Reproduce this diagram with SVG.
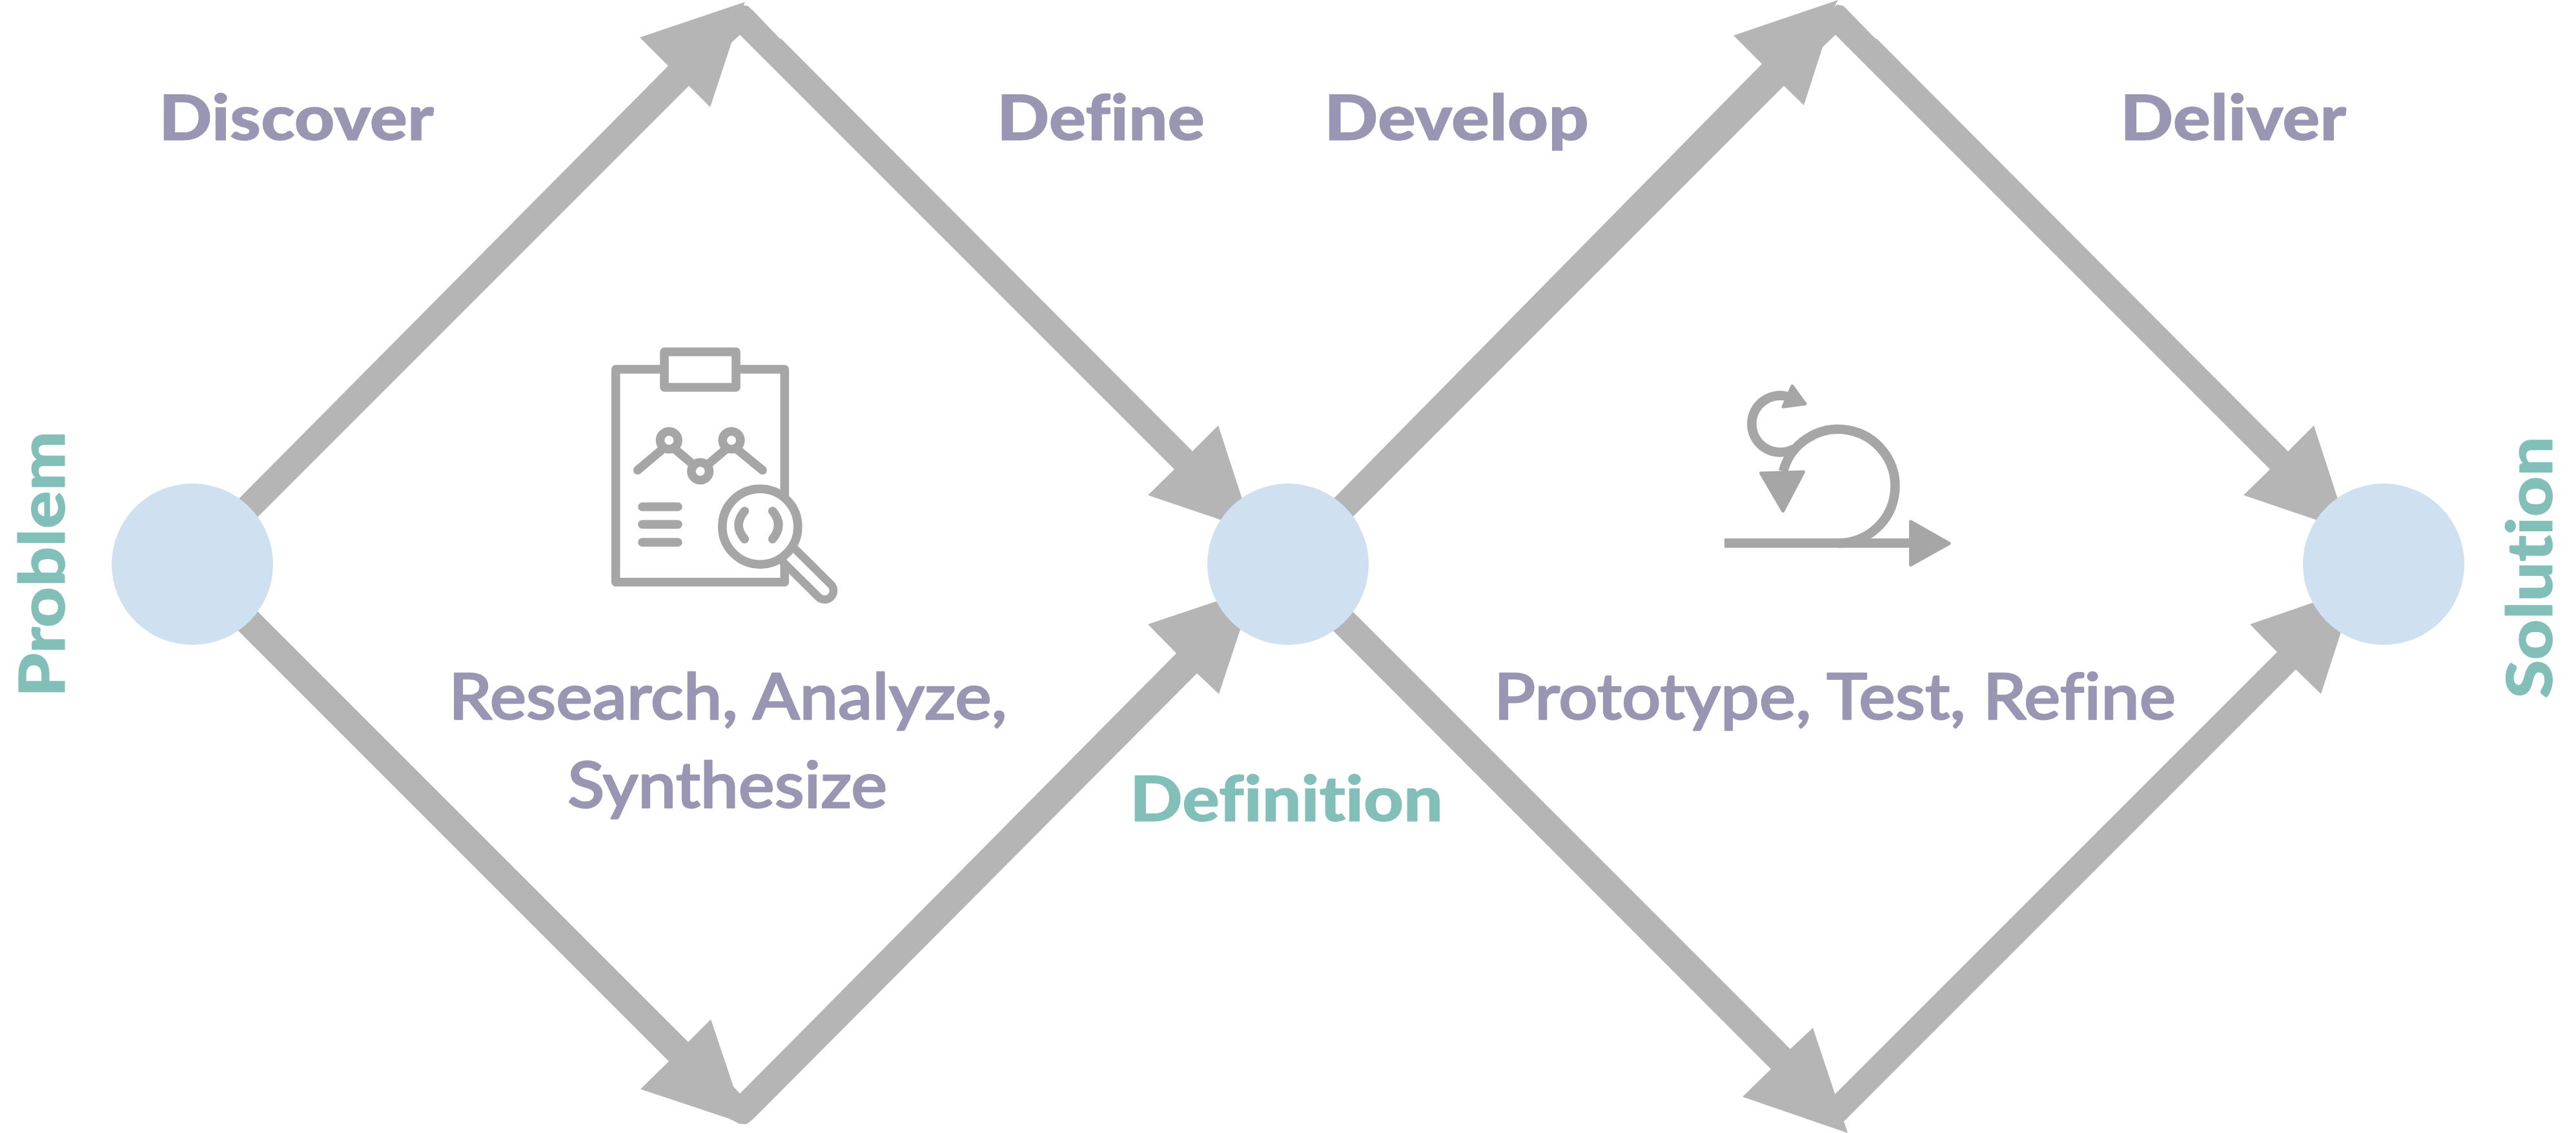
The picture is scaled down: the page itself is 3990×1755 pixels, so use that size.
<svg xmlns="http://www.w3.org/2000/svg" width="3990" height="1755" viewBox="0 0 3990 1755">
<style>
.arrow{fill:#b5b5b5}
.node{fill:#cfe0f0}
text{font-family:"Lato","Liberation Sans",sans-serif;font-size:98px;font-variant-ligatures:none;stroke-linejoin:round}
.head{font-weight:900;fill:#9896b3;stroke:#9896b3;stroke-width:1px}
.key{font-weight:900;fill:#82bfb9;stroke:#82bfb9;stroke-width:1px}
.body{font-weight:500;fill:#9896b3;stroke:#9896b3;stroke-width:2.5px}
.ic{fill:none;stroke:#a6a6a6;stroke-width:13.6;stroke-linecap:round;stroke-linejoin:round}
.icw{fill:#fff;stroke:#a6a6a6;stroke-width:13.6;stroke-linejoin:round}
.ar{fill:#a6a6a6;stroke:#a6a6a6;stroke-width:5;stroke-linejoin:round}
.lp{fill:none;stroke:#a6a6a6;stroke-width:14.6}
</style>
<rect width="3990" height="1755" fill="#fff"/>
<g id="connectors">
<polygon id="a2" class="arrow" points="1133,66 1146,54 1819,727 1778,767 1940,822 1887,659 1847,699 1210,60 1208,60 1167,17 1158,9 1148,8 1125,45"/>
<polygon id="a1" class="arrow" points="300,843 1035,102 991,58 1154,3 1151,10 1133,66 1100,166 1067,133 330,870"/>
<polygon id="a4" class="arrow" points="1136,1683 1146,1694 1822,1012 1778,967 1942,912 1888,1075 1854,1043 1167,1733 1157,1741 1146,1741 1130,1733"/>
<polygon id="a3" class="arrow" points="330,878 1066,1614 1101,1579 1136,1683 1154,1742 1130,1733 992,1687 1036,1644 880,1488 300,908"/>
<polygon id="a6" class="arrow" points="2823,73 2843,54 3516,727 3475,767 3637,822 3584,659 3544,699 2907,60 2905,60 2863,17 2855,9 2845,7 2815,45"/>
<polygon id="a5" class="arrow" points="1995,844 2729,99 2685,55 2847,0 2843,7 2823,73 2794,163 2763,133 2030,866"/>
<polygon id="a8" class="arrow" points="2842,1695 2843,1694 3527,1010 3485,967 3648,911 3595,1075 3556,1037 2856,1737 2850,1740"/>
<polygon id="a7" class="arrow" points="2030,882 2773,1625 2808,1592 2842,1694 2856,1737 2862,1755 2699,1699 2743,1656 2000,912"/>
</g>
<g id="node-problem"><circle class="node" cx="298" cy="874" r="125"/><text class="key" transform="translate(100 1080) rotate(-90)" textLength="412" lengthAdjust="spacingAndGlyphs">Problem</text></g>
<g id="node-definition"><circle class="node" cx="1995" cy="874" r="125"/><text class="key" x="1750" y="1272" textLength="485" lengthAdjust="spacingAndGlyphs">Definition</text></g>
<g id="node-solution"><circle class="node" cx="3692" cy="874" r="125"/><text class="key" transform="translate(3953 1082) rotate(-90)" textLength="406" lengthAdjust="spacingAndGlyphs">Solution</text></g>
<g id="labels">
<text class="head" x="246" y="217" textLength="426" lengthAdjust="spacingAndGlyphs">Discover</text>
<text class="head" x="1544" y="217" textLength="322" lengthAdjust="spacingAndGlyphs">Define</text>
<text class="head" x="2051" y="217" textLength="410" lengthAdjust="spacingAndGlyphs">Develop</text>
<text class="head" x="3284" y="217" textLength="350" lengthAdjust="spacingAndGlyphs">Deliver</text>
<text class="body" x="695" y="1114" textLength="865" lengthAdjust="spacingAndGlyphs">Research, Analyze,</text>
<text class="body" x="879" y="1251" textLength="495" lengthAdjust="spacingAndGlyphs">Synthesize</text>
<text class="body" x="2314" y="1114" textLength="1056" lengthAdjust="spacingAndGlyphs">Prototype, Test, Refine</text>
</g>
<g id="icon-research">
<rect class="ic" x="953.7" y="572" width="261.6" height="329.7"/>
<rect class="icw" x="1029" y="545" width="111" height="55"/>
<circle class="ic" cx="1036.3" cy="682" r="13.8"/>
<circle class="ic" cx="1084.7" cy="730" r="13.8"/>
<circle class="ic" cx="1133" cy="682" r="13.8"/>
<path class="ic" d="M987.7 728.3L1025 696.7M1046.7 696.7L1075 720.7M1095 720.7L1123.3 696.7M1142.7 696.7L1181 728.3M995 785H1050M995 812.3H1050M995 840H1050"/>
<line x1="1220" y1="858.3" x2="1277.3" y2="915" stroke="#a6a6a6" stroke-width="40" stroke-linecap="round"/>
<line x1="1220" y1="858.3" x2="1277.3" y2="915" stroke="#fff" stroke-width="14.7" stroke-linecap="round"/>
<circle class="icw" cx="1177.3" cy="815.7" r="58.5"/>
<path class="ic" d="M1153.3 791.7Q1134.7 813.3 1153.3 835M1196.7 791.7Q1214.7 813.3 1196.7 835"/>
</g>
<g id="icon-iterate">
<path class="lp" d="M2778.3 695.3A44 44 0 1 1 2768.3 614"/>
<polygon class="ar" points="2776,598 2796,625.5 2762,630"/>
<path class="lp" d="M2671 841.3H2846.7A88.2 88.2 0 1 0 2762 730"/>
<polygon class="ar" points="2727.5,733 2793.5,731 2761.7,791.5"/>
<path class="lp" d="M2846 841.3H2960"/>
<polygon class="ar" points="2959.5,808 3019,841.7 2959.5,875"/>
</g>
</svg>
